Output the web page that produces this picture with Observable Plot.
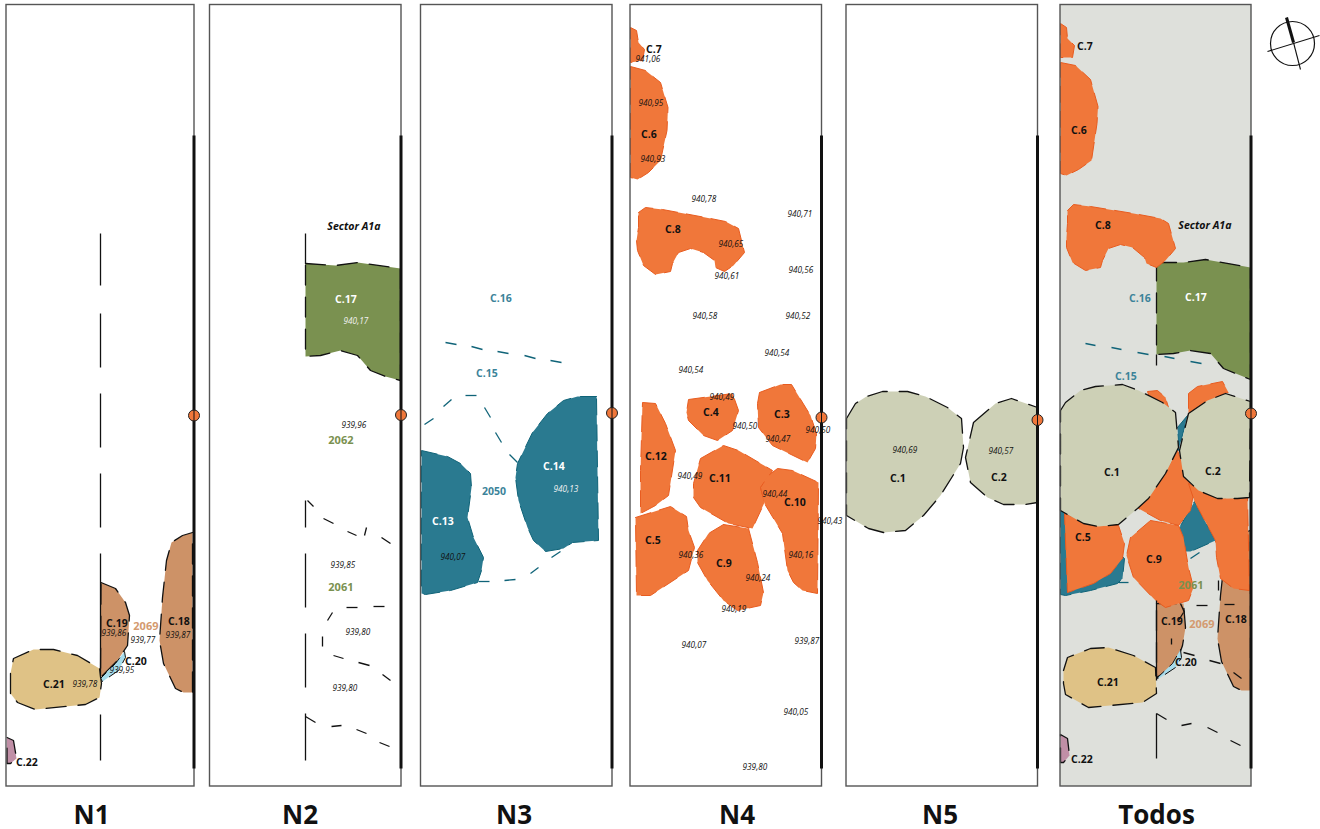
<!DOCTYPE html>
<html><head><meta charset="utf-8">
<style>html,body{margin:0;padding:0;background:#fff;overflow:hidden}svg{display:block}</style>
<script src="https://cdn.jsdelivr.net/npm/d3@7"></script>
<script src="https://cdn.jsdelivr.net/npm/@observablehq/plot@0.6"></script>
</head><body><script>
// panels: name, left, right, title centre, marker y
const panelNames=["N1","N2","N3","N4","N5","Todos"];
const panelLeft=[6,209.5,420.5,630,846,1060];
const panelRight=[194,401,612,821.5,1037.5,1251];
const titleX=[91,299.5,513.5,736.5,939.5,1156];
const markerY=[415,414.5,412.5,417,419.5,413];
const ORANGE="#f0773a",ORANGE_D="#e85c20",TEAL="#2a7a90",TEAL_D="#0f6378",GREEN="#7a9150",SAGE="#cdd0b6",TAN="#dfc286",BROWN="#cd9267",BLUE="#a6dcec",MAUVE="#c08fa6";

const c21n=[[10,693],[10,673],[13,658],[33,649],[53,649],[77,655],[99,668],[101,683],[99,697],[85,704],[35,709],[17,702]];
const c19n=[[100.5,582],[115,588],[125,602],[129,615],[127,645],[117,660],[100,677]];
const c20n=[[124,651],[125,657],[118,670],[102,681],[100,678],[115,663]];
const c18n=[[192,532],[182,535],[171,542],[166,560],[162,597],[159,640],[163,663],[175,688],[183,692],[192,692]];
const c22n=[[6.5,737],[13,740],[16,758],[10,763],[6.5,763]];
const c17n=[[305,263],[335,265],[357,262],[400,268],[400,380],[385,376],[370,370],[357,355],[340,350],[320,355],[305,356]];
const c13n=[[421,450],[447,456],[460,463],[470,473],[471,487],[467,517],[473,537],[483,557],[481,570],[477,582],[450,590],[425,594],[421,593]];
const c14n=[[596,396],[577,396],[563,400],[547,413],[532,432],[517,463],[515,477],[518,500],[527,527],[533,540],[545,551],[563,548],[572,542],[598,540],[597,470]];
const c7n=[[630,27],[636,30],[638,42],[644,49],[642,60],[630,62]];
const c6n=[[630,66],[645,70],[660,82],[667.5,107],[666.5,130],[660,160],[648,172],[637,179],[630,177]];
const c8n=[[638,212],[645,207],[662,209],[705,217],[725,221],[738,228],[744,252],[733,265],[724,271],[715,267],[714,260],[703,252],[690,248],[678,252],[672,263],[670,271],[655,274],[643,265],[637,250],[636,240],[638,227]];
const c3n=[[759,392],[780,384],[791,384],[810,415],[816,433],[815,448],[807,462],[772,445],[758,427],[757,403]];
const c4n=[[688,399],[732,393],[738,410],[732,430],[717,440],[703,435],[688,420],[686,412]];
const c12n=[[642,402],[655,403],[665,423],[675,450],[668,495],[655,505],[640,513],[640,470]];
const c11n=[[700,458],[723,445],[738,450],[772,470],[768,477],[760,487],[764,502],[752,528],[728,523],[700,507],[693,497],[693,483]];
const c10n=[[777,468],[792,470],[818,482],[817,593],[802,590],[793,582],[787,570],[782,533],[764,503],[760,487],[768,475]];
const c5n=[[635,517],[670,506],[686,516],[688,530],[694,547],[688,570],[650,595],[636,595]];
const c9n=[[723,524],[748,528],[757,562],[763,592],[760,605],[737,610],[723,600],[707,580],[697,562],[697,550],[708,533]];
const c1n=[[846,418],[855,403],[866,396],[882,391],[907,391],[925,396],[947,407],[961,418],[963,447],[960,463],[940,495],[923,515],[905,530],[883,532],[868,528],[846,515]];
const c2n=[[973,422],[995,403],[1011,398],[1037,407],[1037,502],[1025,504],[1003,504],[987,497],[970,482],[965,457]];
// Todos panel
const t13=[[1060,510],[1075,515],[1124,558],[1122,578],[1117,583],[1090,590],[1065,595],[1060,594]];
const t14a=[[1177,427],[1187,415],[1178,450]];
const t14b=[[1194,501],[1215,540],[1190,551],[1185,551],[1179,527]];
const t18=[[1250,530],[1240,533],[1229,540],[1224,558],[1220,595],[1217,638],[1221,661],[1233,686],[1241,690],[1250,690]];
const t19=[[1156,603],[1183,603],[1185,627],[1182,645],[1175,665],[1156,677]];
const t20=[[1180,649],[1181,657],[1175,667],[1160,677],[1156,678],[1172,663]];
const t21=[[1063,670],[1067,657],[1090,648],[1108,647],[1133,655],[1155,667],[1156,693],[1142,702],[1088,707],[1065,694],[1063,683]];
const t22=[[1060,734],[1067,738],[1069,755],[1063,762],[1060,762]];
const t17=[[1156,262],[1183,262],[1205,259],[1250,267],[1250,379],[1223,368],[1210,353],[1190,350],[1173,353],[1156,354]];
const t7=[[1060,23],[1066,27],[1067,38],[1074,45],[1072,57],[1060,57]];
const t6=[[1060,62],[1075,65],[1090,79],[1097.5,106],[1096.5,123],[1091,160],[1078,169],[1066,175],[1060,173]];
const t8=[[1067,210],[1073,204],[1090,206],[1133,213],[1160,218],[1168,223],[1175,248],[1165,260],[1156,267],[1146,263],[1144,257],[1132,247],[1120,244],[1108,248],[1102,260],[1100,267],[1085,270],[1072,262],[1066,247],[1066,237],[1067,223]];
const t3=[[1147,391],[1157,390],[1165,397],[1168,407],[1150,400]];
const t4=[[1188,393],[1197,386],[1222,381],[1228,392],[1223,393],[1207,402],[1188,413]];
const t11=[[1177,450],[1193,493],[1190,510],[1178,525],[1160,520],[1138,508],[1162,477]];
const t10=[[1188,483],[1217,498],[1247,497],[1249,590],[1233,588],[1220,578],[1216,557],[1215,540],[1194,501]];
const t5=[[1064,513],[1093,525],[1118,525],[1124,543],[1122,558],[1110,573],[1093,583],[1067,592]];
const t9=[[1150,520],[1178,525],[1183,537],[1188,567],[1193,587],[1188,600],[1165,607],[1155,600],[1133,577],[1126,555],[1130,537]];
const t1=[[1060,410],[1065,402],[1080,390],[1095,386],[1122,384],[1138,390],[1162,402],[1175,412],[1178,447],[1165,473],[1148,498],[1137,508],[1118,524],[1098,526],[1083,523],[1060,510]];
const t2=[[1188,413],[1207,400],[1225,393],[1250,401],[1249,497],[1237,498],[1217,498],[1198,490],[1183,476],[1179,450]];

// solid dark pieces and dashes [x1,y1,x2,y2]
const blackSegs=[
 [305,233,305,263],[305,500,305,527],[305,553,305,607],[305,633,305,687],[305,713,305,760],
 [100,233,100,285],[100,313,100,367],[100,393,100,447],[100,473,100,527],[100,553,100,677],[100,714,100,760],
 [307,500,313,506],[323,518,333,523],[347,531,356,535],[366,527,364,535],[381,537,390,543],
 [346,607,357,607],[373,606,384,606],[332,612,327,620],[322,636,322,646],[333,655,343,658],[358,662,369,665],[382,674,390,680],
 [305,716,315,722],[331,726,341,725],[356,729,366,733],[379,742,389,746],
 [1156,354,1156,365],[1156,600,1156,680],[1156,713,1156,758],[1156,713,1166,719],[1181,725,1191,723],[1207,727,1217,732],[1230,740,1240,745],
 [1196,605,1207,605],[1224,604,1234,604],[1183,612,1178,620],[1171,638,1171,644],[1183,652,1194,655],[1209,660,1220,663],[1233,672,1241,678],
 [1180,603,1184,612],[1218,580,1218,590]
];
const tealSegs=[
 [445,342,456,344],[471,346,482,349],[497,351,508,353],[524,355,535,358],[550,360,561,362],
 [424,424,433,418],[443,406,451,399],[465,395,476,395],[484,407,490,417],[495,432,501,442],[509,454,517,462],
 [478,581,489,581],[504,580,515,579],[530,573,538,567],[551,557,560,551],
 [1085,343,1095,345],[1111,347,1121,349],[1137,352,1148,354],[1164,356,1174,358],[1190,361,1201,363],
 [1190,558,1199,552],[1118,582,1128,582]
];
// compass: ring centre, shaft, cross
const compassCentre=[[1292,43]];
const compassThick=[[1286,17,1293,42]];
const compassThin=[[1293,42,1300,69],[1267,51,1319,35]];

// labels [text,x,y]
const blackLabels=[["C.21",54,684],["C.19",117,623],["C.20",136,661],["C.18",179,621],["C.22",27,762],
 ["C.7",654,49],["C.6",649,134],["C.8",673,229],["C.4",711,412],["C.3",782,414],["C.12",656,456],["C.11",720,478],["C.10",795,502],["C.5",653,540],["C.9",724,563],
 ["C.1",898,478],["C.2",999,477],
 ["C.7",1085,46],["C.6",1079,130],["C.8",1103,225],["C.1",1112,472],["C.2",1213,471],["C.5",1083,537],["C.9",1154,559],["C.19",1172,621],["C.18",1236,619],["C.20",1186,662],["C.21",1108,682],["C.22",1082,759]];
const whiteLabels=[["C.17",346,299],["C.14",554,466],["C.13",443,521],["C.17",1196,297]];
const tealLabels=[["C.16",501,298],["C.15",487,373],["2050",494,491],["C.16",1140,298],["C.15",1126,376]];
const greenLabels=[["2062",341,440],["2061",341,587],["2061",1191,585]];
const brownLabels=[["2069",146,626],["2069",1202,624]];
const sectorLabels=[["Sector A1a",354,226],["Sector A1a",1205,225]];
const elevations=[["939,78",85,684],["939,86",114,633],["939,77",143,640],["939,95",122,670],["939,87",178,635],
 ["939,96",354,425],["939,85",343,565],["939,80",358,632],["939,80",345,688],["940,07",453,557],
 ["941,06",648,59],["940,95",651,103],["940,93",653,159],["940,78",704,199],["940,71",800,214],["940,65",731,244],["940,61",727,276],["940,56",801,270],["940,58",705,316],["940,52",798,316],["940,54",777,353],["940,54",691,370],["940,49",722,397],["940,50",745,426],["940,47",778,439],["940,50",818,430],["940,49",690,476],["940,44",775,494],["940,43",830,521],["940,36",691,555],["940,24",758,578],["940,16",801,555],["940,19",734,609],["940,07",694,645],["939,87",807,641],["940,05",796,712],["939,80",755,767],
 ["940,69",905,450],["940,57",1001,451]];
const whiteElevations=[["940,17",356,321],["940,13",566,489]];

const panels=panelNames.map((name,i)=>({name,l:panelLeft[i],r:panelRight[i],tx:titleX[i],my:markerY[i]}));
const shape=(pts,fill,stroke,dash,sw=1)=>Plot.line(pts,{x:d=>d[0],y:d=>d[1],curve:"linear-closed",fill,stroke,strokeWidth:sw,strokeDasharray:dash,strokeLinejoin:"round"});
const oSh=p=>shape(p,ORANGE,ORANGE_D,"16 9",1);
const kSh=(p,f)=>shape(p,f,"#111","20 12",1.3);
const segs=(data,stroke,sw)=>Plot.link(data,{x1:d=>d[0],y1:d=>d[1],x2:d=>d[2],y2:d=>d[3],stroke,strokeWidth:sw});
const txt=(data,o)=>Plot.text(data,{x:d=>d[1],y:d=>d[2],text:d=>d[0],dx:-0.6,...o});
const lab={fontSize:10.5,fontWeight:700};
const elev={fontSize:8.2,fontStyle:"italic"};

const chart=Plot.plot({
 width:1320,height:829,margin:0,
 x:{domain:[0,1320],range:[0,1320],axis:null},
 y:{domain:[0,829],range:[0,829],axis:null},
 style:{fontFamily:"'Open Sans','Noto Sans',sans-serif",background:"#fff"},
 marks:[
  Plot.rect(panels,{x1:"l",x2:"r",y1:()=>4.5,y2:()=>786,fill:d=>d.name==="Todos"?"#dee0db":"#fff"}),
  // N1
  kSh(c18n,BROWN),kSh(c19n,BROWN),shape(c20n,BLUE,"#111","12 8",1),kSh(c21n,TAN),kSh(c22n,MAUVE),
  // N2
  kSh(c17n,GREEN),
  // N3
  shape(c13n,TEAL,TEAL_D,"16 10",1),shape(c14n,TEAL,TEAL_D,"16 10",1),
  // N4
  ...[c7n,c6n,c8n,c3n,c4n,c12n,c11n,c10n,c5n,c9n].map(oSh),
  // N5
  kSh(c1n,SAGE),kSh(c2n,SAGE),
  // Todos
  shape(t13,TEAL,TEAL_D,"16 10",1),shape(t14a,TEAL,TEAL_D,"16 10",1),shape(t14b,TEAL,TEAL_D,"16 10",1),
  kSh(t18,BROWN),kSh(t19,BROWN),shape(t20,BLUE,"#111","12 8",1),kSh(t21,TAN),kSh(t22,MAUVE),
  kSh(t17,GREEN),
  ...[t7,t6,t8,t3,t4,t11,t10,t5,t9].map(oSh),
  kSh(t1,SAGE),kSh(t2,SAGE),
  segs(blackSegs,"#111",1.3),
  segs(tealSegs,TEAL_D,1.3),
  Plot.rect(panels,{x1:"l",x2:"r",y1:()=>4.5,y2:()=>786,fill:"none",stroke:"#555",strokeWidth:1.4}),
  Plot.link(panels,{x1:d=>d.r-0.5,x2:d=>d.r-0.5,y1:()=>135,y2:()=>768,stroke:"#111",strokeWidth:3}),
  Plot.dot(panels,{x:d=>d.r-0.5,y:"my",r:5.5,fill:ORANGE,stroke:"#222",strokeWidth:1}),
  Plot.link(panels,{x1:d=>d.r-0.5,x2:d=>d.r-0.5,y1:d=>d.my-5.5,y2:d=>d.my+5.5,stroke:"#111",strokeWidth:1}),
  txt(blackLabels,{...lab,fill:"#111"}),
  txt(whiteLabels,{...lab,fill:"#fff"}),
  txt(tealLabels,{...lab,fill:"#3b8399"}),
  txt(greenLabels,{...lab,fontSize:11,fill:GREEN}),
  txt(brownLabels,{...lab,fontSize:11,fill:"#d39a70"}),
  txt(sectorLabels,{fontSize:10.6,fontWeight:700,fontStyle:"italic",fill:"#111"}),
  txt(elevations,{...elev,fill:"#111"}),
  txt(whiteElevations,{...elev,fill:"#f2f2f2"}),
  Plot.text(panels,{x:"tx",y:()=>815,text:"name",fontSize:26,fontWeight:700,fill:"#111"}),
  Plot.dot(compassCentre,{x:d=>d[0],y:d=>d[1],r:22,fill:"none",stroke:"#111",strokeWidth:1.2}),
  segs(compassThick,"#111",3),
  segs(compassThin,"#111",1.1)
 ]
});
document.body.appendChild(chart);
</script></body></html>
